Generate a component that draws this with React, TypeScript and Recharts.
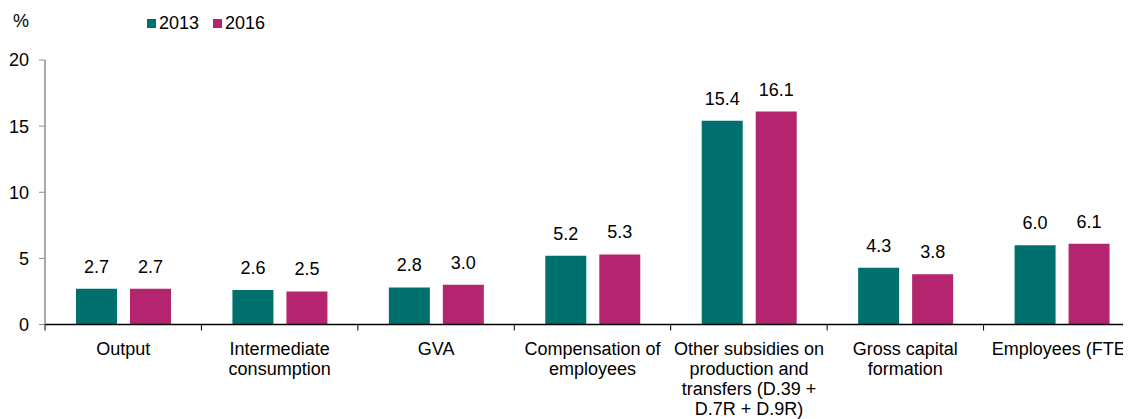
import { Bar, BarChart, LabelList, Legend, XAxis, YAxis } from "recharts";

const categories = [
  "Output",
  "Intermediate\nconsumption",
  "GVA",
  "Compensation of\nemployees",
  "Other subsidies on\nproduction and\ntransfers (D.39 +\nD.7R + D.9R)",
  "Gross capital\nformation",
  "Employees (FTE)",
];
const share2013 = [2.7, 2.6, 2.8, 5.2, 15.4, 4.3, 6.0];
const share2016 = [2.7, 2.5, 3.0, 5.3, 16.1, 3.8, 6.1];
const yTicks = [0, 5, 10, 15, 20];

const TEAL = "#00706F";
const MAGENTA = "#B5256F";
const FONT = "'Liberation Sans', Arial, sans-serif";
const FS = 18;

const CHART_W = 1132;
const CHART_H = 411;
const Y_W = 37;
const BAND = (CHART_W - Y_W) / categories.length;

const data = categories.map((name, i) => ({
  name,
  y2013: share2013[i],
  y2016: share2016[i],
}));

function CategoryTick({ x, y, payload }: any) {
  const lines = String(payload.value).split("\n");
  return (
    <g>
      <line
        stroke="#000"
        strokeWidth={1}
        x1={x - BAND / 2}
        x2={x - BAND / 2}
        y1={y}
        y2={y + 6}
      />
      <text fill="#000" fontSize={FS} textAnchor="middle" x={x} y={y + 30}>
        {lines.map((l, i) => (
          <tspan key={i} x={x} dy={i === 0 ? 0 : 20}>
            {l}
          </tspan>
        ))}
      </text>
    </g>
  );
}

function LegendBox() {
  const items = [
    { label: "2013", color: TEAL },
    { label: "2016", color: MAGENTA },
  ];
  return (
    <div style={{ display: "flex", alignItems: "center", fontSize: FS, lineHeight: "20px" }}>
      {items.map((it) => (
        <div key={it.label} style={{ display: "flex", alignItems: "center", marginRight: 14 }}>
          <span style={{ width: 9, height: 9, background: it.color, marginRight: 3, display: "inline-block" }} />
          <span>{it.label}</span>
        </div>
      ))}
    </div>
  );
}

export default function App() {
  return (
    <div
      style={{
        position: "relative",
        width: 1123,
        height: CHART_H,
        overflow: "hidden",
        fontFamily: FONT,
        color: "#000",
      }}
    >
      <div style={{ position: "absolute", left: 5, top: 3, fontSize: FS, lineHeight: "20px" }}>%</div>
      <BarChart
        barGap={13}
        barSize={41}
        data={data}
        height={CHART_H}
        margin={{ top: 52, right: 0, bottom: 0, left: 0 }}
        style={{ fontFamily: FONT }}
        width={CHART_W}
      >
        <Legend
          content={() => <LegendBox />}
          layout="horizontal"
          verticalAlign="middle"
          wrapperStyle={{ left: 139, top: 5, width: 200 }}
        />
        <XAxis
          axisLine={{ stroke: "#000", strokeWidth: 1.5 }}
          dataKey="name"
          height={94.5}
          interval={0}
          tick={<CategoryTick />}
          tickLine={false}
          tickMargin={0}
          tickSize={0}
        />
        <YAxis
          axisLine={{ stroke: "#8c8c8c", strokeWidth: 1.5 }}
          domain={[0, 20]}
          interval={0}
          tick={{ fill: "#000", fontSize: FS }}
          tickLine={{ stroke: "#8c8c8c" }}
          tickMargin={10}
          tickSize={6}
          ticks={yTicks}
          width={Y_W}
        />
        <Bar dataKey="y2013" fill={TEAL} isAnimationActive={false}>
          <LabelList
            dataKey="y2013"
            fill="#000"
            fontSize={FS}
            formatter={(v: any) => Number(v).toFixed(1)}
            offset={16}
            position="top"
          />
        </Bar>
        <Bar dataKey="y2016" fill={MAGENTA} isAnimationActive={false}>
          <LabelList
            dataKey="y2016"
            fill="#000"
            fontSize={FS}
            formatter={(v: any) => Number(v).toFixed(1)}
            offset={16}
            position="top"
          />
        </Bar>
      </BarChart>
    </div>
  );
}
